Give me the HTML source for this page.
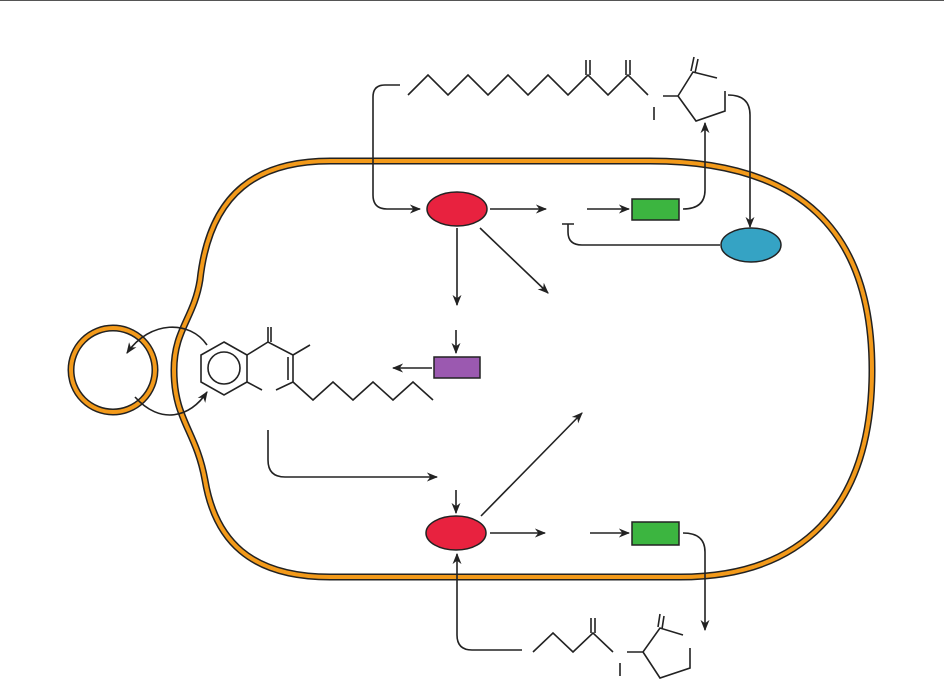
<!DOCTYPE html>
<html><head><style>html,body{margin:0;padding:0;background:#fff;}svg{display:block;}</style></head>
<body>
<svg width="944" height="680" viewBox="0 0 944 680" xmlns="http://www.w3.org/2000/svg">
<defs>
<marker id="a" viewBox="0 0 10 10" refX="9" refY="5" markerWidth="7" markerHeight="7" orient="auto-start-reverse"><path d="M0,1 L10,5 L0,9 L3,5 Z" fill="#222"/></marker>
</defs>
<line x1="0" y1="0.5" x2="944" y2="0.5" stroke="#555" stroke-width="1"/>
<g fill="none">
<path d="M430,161 L650,161 C800,161 872,230 872,370 C872,510 800,577 680,577 L330,577 C250,577 215,540 205,480 C196,430 174,420 174,370 C174,330 194,318 200,280 C210,190 260,161 330,161 Z" stroke="#222" stroke-width="7"/>
<path d="M430,161 L650,161 C800,161 872,230 872,370 C872,510 800,577 680,577 L330,577 C250,577 215,540 205,480 C196,430 174,420 174,370 C174,330 194,318 200,280 C210,190 260,161 330,161 Z" stroke="#f39a1a" stroke-width="4"/>
<circle cx="113" cy="370" r="42" stroke="#222" stroke-width="7"/>
<circle cx="113" cy="370" r="42" stroke="#f39a1a" stroke-width="4"/>
</g>
<g fill="none" stroke="#222" stroke-width="1.6">
<path d="M207,345 C190,320 150,320 127,353" marker-end="url(#a)"/>
<path d="M135,397 C160,425 190,418 207,392" marker-end="url(#a)"/>
<polygon points="224,342 247,355 247,382 224,395 201,382 201,355"/>
<circle cx="224" cy="368" r="16"/>
<path d="M247,355 L268,342 L293,355 L293,382 M288,357 L288,380 M268,342 L268,327 M271,342 L271,327 M293,355 L310,345 M247,382 L262,390 M276,390 L293,382"/>
<path d="M293,382 L313,400 L333,382 L353,400 L373,382 L393,400 L413,382 L433,400"/>
<path d="M408,95 L428,75 L448,95 L468,75 L488,95 L508,75 L528,95 L548,75 L568,95 L588,75 L608,95 L628,75 L648,95"/>
<path d="M586,75 L586,60 M590,75 L590,60 M626,75 L626,60 M630,75 L630,60"/>
<path d="M663,96 L678,96 L693,72 L717,78 M691,71 L694,57 M695,73 L698,59 M678,96 L696,121 L725,111 L725,91 M654,107 L654,120"/>
<path d="M400,85 L385,85 Q373,85 373,97 L373,195 Q373,209 387,209 L420,209" marker-end="url(#a)"/>
<path d="M728,95 Q750,95 750,115 L750,227" marker-end="url(#a)"/>
<line x1="490" y1="209" x2="546" y2="209" marker-end="url(#a)"/>
<line x1="587" y1="209" x2="629" y2="209" marker-end="url(#a)"/>
<path d="M683,209 Q705,209 705,190 L705,123" marker-end="url(#a)"/>
<path d="M720,245 L582,245 Q568,245 568,232 L568,224 M562,224 L574,224"/>
<line x1="457" y1="228" x2="457" y2="305" marker-end="url(#a)"/>
<line x1="480" y1="228" x2="548" y2="293" marker-end="url(#a)"/>
<line x1="456" y1="330" x2="456" y2="353" marker-end="url(#a)"/>
<line x1="432" y1="368" x2="393" y2="368" marker-end="url(#a)"/>
<path d="M268,430 L268,460 Q268,477 285,477 L437,477" marker-end="url(#a)"/>
<line x1="456" y1="490" x2="456" y2="513" marker-end="url(#a)"/>
<line x1="481" y1="516" x2="582" y2="413" marker-end="url(#a)"/>
<line x1="490" y1="533" x2="545" y2="533" marker-end="url(#a)"/>
<line x1="590" y1="533" x2="629" y2="533" marker-end="url(#a)"/>
<path d="M683,533 Q705,533 705,552 L705,630" marker-end="url(#a)"/>
<path d="M522,650 L472,650 Q457,650 457,635 L457,554" marker-end="url(#a)"/>
<path d="M533,652 L553,633 L573,652 L593,633 L613,652 M591,633 L591,618 M595,633 L595,618"/>
<path d="M627,652 L643,652 L660,628 L683,635 M658,627 L660,614 M662,629 L664,616 M643,652 L660,678 L690,668 L690,648 M620,663 L620,676"/>
</g>
<g stroke="#222" stroke-width="1.5">
<ellipse cx="457" cy="209" rx="30" ry="17" fill="#e8223f"/>
<ellipse cx="456" cy="533" rx="30" ry="17" fill="#e8223f"/>
<ellipse cx="751" cy="245" rx="30" ry="17" fill="#35a3c4"/>
<rect x="632" y="199" width="47" height="21" fill="#3cb540"/>
<rect x="632" y="522" width="47" height="23" fill="#3cb540"/>
<rect x="434" y="357" width="46" height="21" fill="#9b59b0"/>
</g>
</svg>
</body></html>
